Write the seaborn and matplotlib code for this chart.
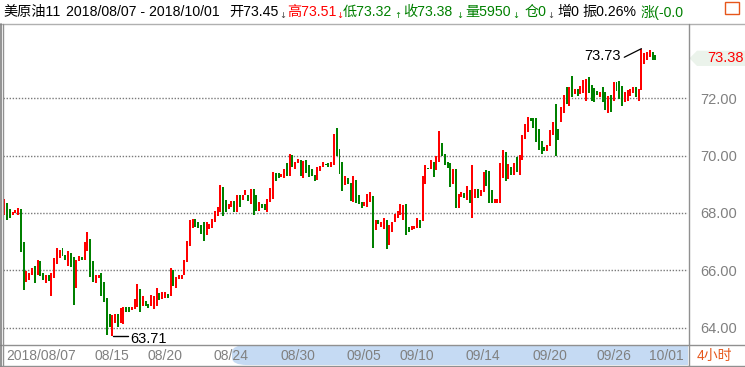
import matplotlib
matplotlib.use("Agg")
import matplotlib.pyplot as plt
import seaborn as sns
import numpy as np
import pandas as pd
from matplotlib.lines import Line2D
from matplotlib.patches import Polygon, Rectangle, FancyBboxPatch

# ---------------- data (4-hour bars) ----------------
highs = [
    68.47, 68.33, 68.15, 68.03, 68.12, 68.19, 68.15, 66.98, 65.99, 65.92,
    66.09, 66.16, 66.37, 66.34, 65.92, 65.83, 65.85, 65.92, 66.43, 66.79,
    66.70, 66.79, 66.55, 66.69, 66.62, 66.48, 66.37, 66.51, 66.48, 66.98,
    67.35, 67.10, 66.34, 65.83, 65.83, 65.91, 65.60, 65.05, 64.49, 64.45,
    64.49, 64.49, 64.69, 64.73, 64.73, 64.73, 64.73, 65.01, 65.53, 65.36,
    65.11, 64.94, 64.84, 65.14, 65.11, 65.39, 65.21, 65.25, 65.25, 65.18,
    66.08, 66.00, 65.77, 65.85, 65.84, 66.37, 67.03, 67.76, 67.79, 67.78,
    67.67, 67.57, 67.67, 67.67, 67.63, 67.80, 68.08, 68.22, 68.98, 68.91,
    68.44, 68.32, 68.43, 68.43, 68.61, 68.63, 68.63, 68.80, 68.63, 68.83,
    68.83, 68.63, 68.37, 68.32, 68.32, 68.49, 68.87, 69.44, 69.40, 69.40,
    69.36, 69.53, 69.75, 70.05, 70.01, 69.79, 69.87, 69.84, 69.81, 69.83,
    69.66, 69.55, 69.33, 69.59, 69.63, 69.79, 69.69, 69.74, 69.76, 70.75,
    70.96, 70.23, 69.79, 69.28, 69.21, 69.05, 69.28, 69.14, 68.63, 68.39,
    68.37, 68.66, 68.73, 68.59, 67.77, 67.74, 67.67, 67.84, 67.77, 67.57,
    67.70, 67.98, 68.08, 68.32, 68.27, 68.32, 67.51, 67.53, 67.54, 67.81,
    67.77, 69.28, 69.66, 69.57, 69.86, 69.76, 69.99, 70.86, 70.45, 70.05,
    69.78, 69.73, 69.52, 69.52, 68.66, 68.73, 68.70, 68.94, 68.81, 69.69,
    68.85, 68.83, 68.80, 69.43, 69.49, 69.45, 68.80, 68.49, 68.49, 69.75,
    70.19, 70.12, 69.72, 69.59, 69.73, 69.94, 70.01, 70.71, 71.10, 71.35,
    71.31, 71.31, 71.31, 70.92, 70.50, 70.29, 70.36, 70.89, 71.17, 71.80,
    70.92, 71.70, 72.11, 72.40, 72.38, 72.79, 72.34, 72.31, 72.44, 72.62,
    72.67, 72.74, 72.47, 72.36, 72.24, 72.22, 72.38, 72.22, 72.09, 72.12,
    72.57, 72.55, 72.60, 72.43, 72.22, 72.29, 72.34, 72.38, 72.38, 72.31,
    73.73, 73.59, 73.62, 73.69, 73.63, 73.51]

lows = [
    67.92, 67.74, 67.81, 67.92, 68.00, 67.92, 66.63, 65.33, 65.58, 65.67,
    65.84, 65.55, 65.83, 65.79, 65.65, 65.57, 65.62, 65.12, 65.72, 66.21,
    66.44, 66.49, 66.35, 66.16, 66.12, 64.80, 65.37, 66.31, 66.35, 66.35,
    66.69, 65.76, 65.58, 65.54, 65.72, 65.12, 64.91, 63.76, 64.02, 63.71,
    64.17, 64.02, 64.17, 64.14, 64.55, 64.55, 64.60, 64.64, 64.71, 64.53,
    64.77, 64.77, 64.69, 64.74, 64.64, 64.77, 64.97, 65.01, 65.05, 65.02,
    65.09, 65.47, 65.39, 65.68, 65.71, 65.83, 66.30, 66.86, 67.48, 67.51,
    67.46, 67.28, 67.03, 67.23, 67.44, 67.48, 67.68, 67.90, 68.05, 67.91,
    68.02, 68.14, 68.21, 68.05, 68.05, 68.21, 68.44, 68.61, 68.43, 68.32,
    67.92, 68.08, 68.08, 68.18, 68.11, 68.05, 68.39, 68.49, 69.13, 69.22,
    69.24, 69.23, 69.30, 69.29, 69.60, 69.52, 69.74, 69.29, 69.22, 69.39,
    69.26, 69.29, 69.12, 69.15, 69.45, 69.60, 69.66, 69.60, 69.60, 69.66,
    69.98, 69.36, 68.78, 68.98, 69.02, 68.40, 68.37, 68.33, 68.30, 68.16,
    68.23, 68.21, 68.37, 66.77, 67.41, 67.61, 67.51, 67.44, 66.73, 66.89,
    67.34, 67.70, 67.84, 67.94, 67.74, 67.23, 67.34, 67.41, 67.43, 67.47,
    67.47, 67.71, 69.02, 69.53, 69.55, 69.26, 69.50, 69.79, 69.97, 69.69,
    69.57, 68.90, 69.02, 68.18, 68.18, 68.55, 68.53, 68.46, 68.35, 67.81,
    68.53, 68.53, 68.60, 68.72, 68.95, 68.34, 68.34, 68.34, 68.34, 68.34,
    69.22, 69.13, 69.18, 69.34, 69.34, 69.42, 69.34, 69.85, 70.58, 70.83,
    71.22, 70.97, 70.48, 70.20, 70.06, 70.16, 70.16, 70.34, 70.73, 70.00,
    70.54, 71.17, 71.49, 71.80, 71.73, 72.06, 72.15, 72.09, 72.15, 72.19,
    71.92, 72.20, 71.92, 71.88, 72.10, 72.06, 71.87, 71.59, 71.49, 71.53,
    71.92, 72.24, 71.99, 71.74, 71.88, 71.92, 72.09, 72.17, 72.06, 71.91,
    72.29, 73.20, 73.34, 73.45, 73.34, 73.32]

# r = close >= open (red), g = close < open (green)
direction = ("rggrrrggrr" "rgrggrgrrr" "rggrggrrgr" "rggrrggggr"
             "rgrrggrrrg" "rggrrrgrrg" "rgrrrrrrrg" "gggrrrrrrg"
             "grrgrgrrgr" "ggrggrrrgg" "rrgrgrrgrg" "gggrrrggrr"
             "gggrggrggg" "rrrgrgrrgr" "rrrrrggrrr" "grrgrgrrgg"
             "ggrgrrgrgr" "rgrrgggrrr" "rgrgrgrrrr" "ggggggrrrg"
             "grrgrgrgrr" "rggggrggrg" "rgggrrrrgr" "rrrrgg")

tick_bars = [0, 32, 51, 75, 99, 123, 142, 166, 190, 213, 232]
tick_labels = ["2018/08/07", "08/15", "08/20", "08/24", "08/30", "09/05",
               "09/10", "09/14", "09/20", "09/26", "10/01"]
y_ticks = [64, 66, 68, 70, 72]
last_price = 73.38
low_mark = (39, 63.71)
high_mark = (230, 73.73)

header_texts = [
    ("美原油11", "#000000"), ("2018/08/07 - 2018/10/01", "#000000"),
    ("开73.45", "#000000"), ("高73.51", "#ff0000"), ("低73.32", "#008000"),
    ("收73.38", "#008000"), ("量5950", "#008000"), ("仓0", "#008000"),
    ("增0", "#000000"), ("振0.26%", "#000000"), ("涨(-0.0", "#008000")]
header_text_x = [3, 66, 229, 287, 343, 403, 465.5, 525, 557, 582, 641]
header_arrows = [("↓", "#404040"), ("↓", "#ff0000"), ("↑", "#008000"),
                 ("↓", "#008000"), ("↓", "#008000"), ("↓", "#404040")]
header_arrow_x = [282.5, 339.5, 398, 459.5, 515.5, 551]

df = pd.DataFrame({"high": highs, "low": lows, "dir": list(direction)})
df["bar"] = np.arange(len(df))

# ---------------- figure ----------------
sns.set_theme(style="white")
FONTS = ["Liberation Sans", "Noto Sans CJK SC", "DejaVu Sans"]
plt.rcParams["font.family"] = FONTS

W, H = 745, 367
fig = plt.figure(figsize=(W / 100, H / 100), dpi=100)
fig.patch.set_facecolor("white")


def fx(x):
    return x / W


def fy(y):
    return 1 - y / H


ax = fig.add_axes([fx(3), fy(344), (688 - 3) / W, (344 - 24) / H])
ax.set_facecolor("white")

RED, GREEN = "#ff0000", "#008000"
colors = [RED if d == "r" else GREEN for d in df["dir"]]
heights = np.maximum(df["high"] - df["low"], 0.04)
ax.bar(df["bar"], heights, bottom=df["low"], width=0.72, color=colors,
       linewidth=0, align="center", antialiased=False)

pitch = 2.77
x0 = -(4.33 - 3) / pitch
ax.set_xlim(x0, x0 + 685 / pitch)
ax.set_ylim(63.43, 74.59)

for v in y_ticks:
    ax.axhline(v, color="#7a7a7a", lw=1.0, linestyle=(0, (1, 1.2)), zorder=0)

for s in ax.spines.values():
    s.set_visible(False)

ax.yaxis.tick_right()
ax.set_yticks(y_ticks)
ax.set_yticklabels([f"{v:.2f}" for v in y_ticks])
ax.tick_params(axis="y", length=0, pad=9, labelsize=10.5, labelcolor="#808080")
ax.set_xticks(tick_bars)
ax.set_xticklabels([])
ax.tick_params(axis="x", length=3, width=0.8, color="#808080", direction="out")

for b, lab in zip(tick_bars, tick_labels):
    ax.text(b + 0.6, -0.036, lab, transform=ax.get_xaxis_transform(),
            ha="left", va="center", fontsize=10, color="#808080",
            clip_on=False, zorder=5)

# low / high annotations
lb, lv = low_mark
ax.plot([lb + 0.3, lb + 5.8], [lv, lv], color="black", lw=1.0)
ax.text(lb + 6.6, lv - 0.1, f"{lv:.2f}", fontsize=10.5, color="black",
        ha="left", va="center")
hb, hv = high_mark
ax.plot([hb - 6.2, hb], [hv - 0.30, hv], color="black", lw=0.9)
ax.text(hb - 7.4, hv - 0.27, f"{hv:.2f}", fontsize=10.5, color="black",
        ha="right", va="center")

# ---------------- frame & bands (figure pixels) ----------------
tf = fig.transFigure


def hline(y, xa, xb, c="#a0a0a0", lw=1.0):
    fig.add_artist(Line2D([fx(xa), fx(xb)], [fy(y), fy(y)], transform=tf,
                          color=c, lw=lw))


def vline(x, ya, yb, c="#a0a0a0", lw=1.0):
    fig.add_artist(Line2D([fx(x), fx(x)], [fy(ya), fy(yb)], transform=tf,
                          color=c, lw=lw))


# blue range highlight in the date band
fig.add_artist(FancyBboxPatch((fx(232), fy(365)), fx(30), (365 - 345) / H,
                              boxstyle="round,pad=0,rounding_size=0.02",
                              transform=tf, facecolor="#c5daf3",
                              edgecolor="none", zorder=0))
fig.add_artist(Rectangle((fx(245), fy(365)), fx(688 - 245), (365 - 345) / H,
                         transform=tf, facecolor="#c5daf3", edgecolor="none",
                         zorder=0))

hline(24, 0, 745, "#b0b0b0")
hline(344.5, 0, 745, "#909090")
hline(365.5, 0, 745, "#909090")
vline(688.5, 24, 366, "#909090")
vline(0.5, 24, 366, "#808080", 1.2)
vline(2.5, 24, 366, "#909090")

fig.text(fx(697), fy(356), "4小时", fontsize=10, color="#e6561b",
         ha="left", va="center")

# last price marker on the right axis
fig.add_artist(Polygon([(fx(689.5), fy(58.3)), (fx(697), fy(50.7)),
                        (fx(745), fy(50.7)), (fx(745), fy(66)),
                        (fx(697), fy(66))], closed=True, transform=tf,
                       facecolor="#ebf3eb", edgecolor="none"))
fig.text(fx(707), fy(58.5), f"{last_price:.2f}", fontsize=10.5,
         color="#ff0000", ha="left", va="center")

# header line
for (txt, col), xp in zip(header_texts, header_text_x):
    fig.text(fx(xp), fy(12), txt, fontsize=10.2, color=col, ha="left",
             va="center")
for (txt, col), xp in zip(header_arrows, header_arrow_x):
    fig.text(fx(xp), fy(15), txt, fontsize=6, color=col, ha="center",
             va="center", family=["DejaVu Sans"])
fig.add_artist(Rectangle((fx(724.5), fy(13.5)), fx(14), 11.5 / H,
                         transform=tf, facecolor="none",
                         edgecolor="#e6561b", lw=1.0))

fig.savefig("out.png", dpi=100)
